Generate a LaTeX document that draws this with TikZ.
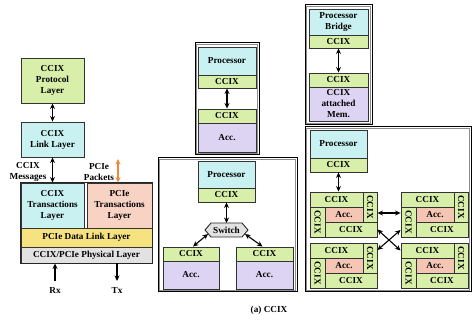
\documentclass[tikz,border=0pt]{standalone}
\usepackage{fontspec}
\usepackage{graphicx}
\setmainfont{Liberation Serif}
\usetikzlibrary{arrows.meta}

\definecolor{cgreen}{HTML}{D7EFA8}
\definecolor{ccyan}{HTML}{C9F1F1}
\definecolor{cpurple}{HTML}{DCD4F2}
\definecolor{csalmon}{HTML}{F8D2C2}
\definecolor{cacc}{HTML}{F6C6B4}
\definecolor{cyellow}{HTML}{F6E27E}
\definecolor{cgray}{HTML}{E2E2E2}
\definecolor{corange}{HTML}{EE8A3E}

\newcommand\lbl{\fontsize{9.2}{11}\selectfont\bfseries}

\tikzset{
  blk/.style={draw=black!80, line width=0.9pt, inner sep=0pt, align=center, font=\lbl},
  tag/.style={inner sep=0pt, align=center, font=\lbl},
  dbl/.style={{Stealth[length=5.5pt,width=5pt]}-{Stealth[length=5.5pt,width=5pt]}, line width=1.1pt},
  one/.style={-{Stealth[length=5.5pt,width=5pt]}, line width=1.1pt},
}

% box given by its corners (x1,y1)-(x2,y2), y grows downwards
\newcommand\cellbox[7]{%
  \pgfmathsetmacro\cbw{(#5)-(#3)}\pgfmathsetmacro\cbh{(#6)-(#4)}%
  \node[blk,#1,minimum width=\cbw pt,minimum height=\cbh pt] (#2) at ({((#3)+(#5))/2},{((#4)+(#6))/2}) {#7};}

% group frame: black outline with a grey inner line
\newcommand\groupframe[4]{%
  \draw[black, line width=1pt] (#1,#2) rectangle (#3,#4);
  \draw[black!45, line width=0.9pt] ({#1+1.8},{#2+1.8}) rectangle ({#3-1.8},{#4-1.8});}

% accelerator module with CCIX ports on four sides
\newcommand\accmod[3]{%
  \cellbox{fill=cgreen}{#1t}{#2}{#3}{#2+53}{#3+15}{CCIX}
  \cellbox{fill=cgreen}{#1r}{#2+53}{#3}{#2+67}{#3+30}{\rotatebox{-90}{CCIX}}
  \cellbox{fill=cgreen}{#1l}{#2}{#3+15}{#2+15}{#3+45}{\rotatebox{-90}{CCIX}}
  \cellbox{fill=cacc}{#1a}{#2+15}{#3+15}{#2+53}{#3+30}{Acc.}
  \cellbox{fill=cgreen}{#1b}{#2+15}{#3+30}{#2+67}{#3+45}{CCIX}}

\begin{document}
\begin{tikzpicture}[x=1pt,y=-1pt]
\useasboundingbox (0,0) rectangle (472,320);

% ---- protocol stack ----
\cellbox{fill=cgreen}{proto}{21}{58}{84}{103}{CCIX\\Protocol\\Layer}
\cellbox{fill=ccyan}{link}{21}{122}{84}{157}{CCIX\\Link Layer}
\cellbox{fill=ccyan}{ccixtl}{21}{183}{84}{228}{CCIX\\Transactions\\Layer}
\cellbox{fill=csalmon}{pcietl}{87}{183}{152}{228}{PCIe\\Transactions\\Layer}
\cellbox{fill=cyellow}{dll}{21}{228}{152}{247}{PCIe Data Link Layer}
\cellbox{fill=cgray}{phy}{21}{247}{152}{263}{CCIX/PCIe Physical Layer}
\draw[black!85, line width=1.1pt] (ccixtl.north west) rectangle (phy.south east);

\draw[dbl] (proto) -- (link);
\draw[dbl] (link) -- (ccixtl);
\node[tag] (msg) at (28,172) {CCIX\\Messages};
\node[tag] (pkt) at (99,172) {PCIe\\Packets};
\coordinate (pk) at (118,159);
\draw[dbl, corange] (pk) -- (pk |- pcietl.north);
\coordinate (rx) at (55,281);
\coordinate (tx) at (117,281);
\draw[one] (rx) -- (rx |- phy.south);
\draw[one] (tx |- phy.south) -- (tx);
\node[tag] (rxl) at (55,290) {Rx};
\node[tag] (txl) at (117,290) {Tx};

% ---- processor with directly attached accelerator ----
\groupframe{195}{43}{259}{155}
\cellbox{fill=ccyan}{mproc}{198}{47}{256}{75}{Processor}
\cellbox{fill=cgreen}{mpc}{198}{75}{256}{88}{CCIX}
\cellbox{fill=cgreen}{mac}{198}{109}{256}{123}{CCIX}
\cellbox{fill=cpurple}{macc}{198}{123}{256}{152}{Acc.}
\draw[dbl] (mpc) -- (mac);

% ---- switched topology ----
\groupframe{158}{158}{297}{292}
\cellbox{fill=ccyan}{sproc}{198}{161}{255}{188}{Processor}
\cellbox{fill=cgreen}{spc}{198}{188}{255}{202}{CCIX}
\draw[black!85, line width=0.9pt, fill=cgray]
  (205,230) -- (211,223) -- (242,223) -- (248,230) -- (242,237) -- (211,237) -- cycle;
\node[tag] (sw) at (226.5,230) {Switch};
\coordinate (swT) at (226.5,223);
\coordinate (swL) at (208,234);
\coordinate (swR) at (245,234);
\cellbox{fill=cgreen}{slc}{163}{247}{219}{261}{CCIX}
\cellbox{fill=cpurple}{sla}{163}{261}{219}{289}{Acc.}
\cellbox{fill=cgreen}{src}{236}{247}{293}{261}{CCIX}
\cellbox{fill=cpurple}{sra}{236}{261}{293}{289}{Acc.}
\draw[dbl] (spc.south) -- (swT);
\draw[dbl] (swL) -- ([xshift=2pt]slc.north);
\draw[dbl] (swR) -- ([xshift=-2pt]src.north);

% ---- attached memory ----
\groupframe{305}{5}{372}{125}
\cellbox{fill=ccyan}{bproc}{309}{9}{368}{35}{Processor\\Bridge}
\cellbox{fill=cgreen}{bpc}{309}{35}{368}{48}{CCIX}
\cellbox{fill=cgreen}{bmc}{309}{73}{368}{87}{CCIX}
\cellbox{fill=cpurple}{bmem}{309}{87}{368}{121}{CCIX\\attached\\Mem.}
\draw[dbl] (bpc) -- (bmc);

% ---- mesh of accelerators ----
\groupframe{305}{127}{471}{292}
\cellbox{fill=ccyan}{nproc}{310}{130}{367}{158}{Processor}
\cellbox{fill=cgreen}{npc}{310}{158}{367}{172}{CCIX}
\accmod{A}{310}{192}
\accmod{B}{401}{192}
\accmod{C}{310}{243}
\accmod{D}{401}{243}
\draw[dbl] (npc.south) -- (npc.south |- At.north);
\draw[dbl] ([yshift=-6pt]Ar.east) -- ([yshift=-6pt]Ar.east -| Bl.west);
\draw[dbl] (Ab.east) -- (Dt.west);
\draw[dbl] ([yshift=-8pt]Bl.west) -- ([yshift=8pt]Cr.east);

\node[tag] (cap) at (269,310) {(a) CCIX};
\end{tikzpicture}
\end{document}
